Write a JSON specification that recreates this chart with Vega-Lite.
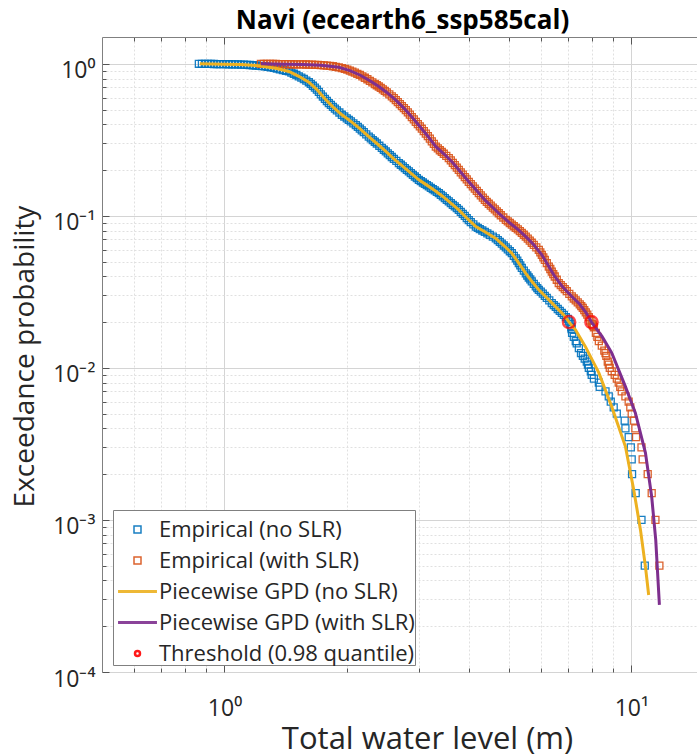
{
  "$schema": "https://vega.github.io/schema/vega-lite/v6.json",
  "width": 601,
  "height": 635,
  "autosize": {"type": "none"},
  "padding": {"left": 102, "top": 37, "right": 0, "bottom": 84},
  "background": "white",
  "title": {"text": "Navi (ecearth6_ssp585cal)", "font": "Open Sans", "fontSize": 26, "fontWeight": "bold", "color": "#000000", "anchor": "middle", "baseline": "alphabetic", "offset": 5, "dy": 23},
  "config": {"view": {"stroke": "#808080", "strokeWidth": 1}},
  "resolve": {"axis": {"x": "independent"}},
  "datasets": {
    "emp": [
      {"x":0.865,"p":1.0,"s":"Empirical (no SLR)"},{"x":0.88,"p":0.9993,"s":"Empirical (no SLR)"},{"x":0.895,"p":0.9985,"s":"Empirical (no SLR)"},{"x":0.910,"p":0.9978,"s":"Empirical (no SLR)"},{"x":0.926,"p":0.997,"s":"Empirical (no SLR)"},{"x":0.942,"p":0.9963,"s":"Empirical (no SLR)"},{"x":0.958,"p":0.9955,"s":"Empirical (no SLR)"},{"x":0.974,"p":0.9948,"s":"Empirical (no SLR)"},{"x":0.991,"p":0.994,"s":"Empirical (no SLR)"},{"x":1.008,"p":0.9933,"s":"Empirical (no SLR)"},{"x":1.025,"p":0.9925,"s":"Empirical (no SLR)"},{"x":1.043,"p":0.9918,"s":"Empirical (no SLR)"},{"x":1.061,"p":0.991,"s":"Empirical (no SLR)"},{"x":1.079,"p":0.9895,"s":"Empirical (no SLR)"},{"x":1.097,"p":0.988,"s":"Empirical (no SLR)"},{"x":1.116,"p":0.9865,"s":"Empirical (no SLR)"},{"x":1.135,"p":0.985,"s":"Empirical (no SLR)"},{"x":1.154,"p":0.9815,"s":"Empirical (no SLR)"},{"x":1.174,"p":0.978,"s":"Empirical (no SLR)"},{"x":1.194,"p":0.974,"s":"Empirical (no SLR)"},{"x":1.215,"p":0.970,"s":"Empirical (no SLR)"},{"x":1.236,"p":0.9655,"s":"Empirical (no SLR)"},{"x":1.257,"p":0.961,"s":"Empirical (no SLR)"},{"x":1.278,"p":0.9545,"s":"Empirical (no SLR)"},{"x":1.300,"p":0.948,"s":"Empirical (no SLR)"},{"x":1.322,"p":0.939,"s":"Empirical (no SLR)"},{"x":1.345,"p":0.930,"s":"Empirical (no SLR)"},{"x":1.368,"p":0.9195,"s":"Empirical (no SLR)"},{"x":1.392,"p":0.909,"s":"Empirical (no SLR)"},{"x":1.416,"p":0.8995,"s":"Empirical (no SLR)"},{"x":1.440,"p":0.890,"s":"Empirical (no SLR)"},{"x":1.460,"p":0.875,"s":"Empirical (no SLR)"},{"x":1.481,"p":0.860,"s":"Empirical (no SLR)"},{"x":1.502,"p":0.8435,"s":"Empirical (no SLR)"},{"x":1.523,"p":0.827,"s":"Empirical (no SLR)"},{"x":1.545,"p":0.8105,"s":"Empirical (no SLR)"},{"x":1.567,"p":0.794,"s":"Empirical (no SLR)"},{"x":1.589,"p":0.775,"s":"Empirical (no SLR)"},{"x":1.612,"p":0.756,"s":"Empirical (no SLR)"},{"x":1.630,"p":0.7365,"s":"Empirical (no SLR)"},{"x":1.649,"p":0.717,"s":"Empirical (no SLR)"},{"x":1.668,"p":0.697,"s":"Empirical (no SLR)"},{"x":1.687,"p":0.677,"s":"Empirical (no SLR)"},{"x":1.706,"p":0.653,"s":"Empirical (no SLR)"},{"x":1.725,"p":0.630,"s":"Empirical (no SLR)"},{"x":1.745,"p":0.609,"s":"Empirical (no SLR)"},{"x":1.765,"p":0.588,"s":"Empirical (no SLR)"},{"x":1.785,"p":0.569,"s":"Empirical (no SLR)"},{"x":1.805,"p":0.551,"s":"Empirical (no SLR)"},{"x":1.826,"p":0.536,"s":"Empirical (no SLR)"},{"x":1.847,"p":0.521,"s":"Empirical (no SLR)"},{"x":1.868,"p":0.507,"s":"Empirical (no SLR)"},{"x":1.889,"p":0.494,"s":"Empirical (no SLR)"},{"x":1.916,"p":0.478,"s":"Empirical (no SLR)"},{"x":1.943,"p":0.462,"s":"Empirical (no SLR)"},{"x":1.970,"p":0.450,"s":"Empirical (no SLR)"},{"x":1.998,"p":0.438,"s":"Empirical (no SLR)"},{"x":2.021,"p":0.428,"s":"Empirical (no SLR)"},{"x":2.045,"p":0.418,"s":"Empirical (no SLR)"},{"x":2.074,"p":0.406,"s":"Empirical (no SLR)"},{"x":2.103,"p":0.395,"s":"Empirical (no SLR)"},{"x":2.127,"p":0.385,"s":"Empirical (no SLR)"},{"x":2.151,"p":0.375,"s":"Empirical (no SLR)"},{"x":2.175,"p":0.365,"s":"Empirical (no SLR)"},{"x":2.200,"p":0.355,"s":"Empirical (no SLR)"},{"x":2.231,"p":0.343,"s":"Empirical (no SLR)"},{"x":2.263,"p":0.332,"s":"Empirical (no SLR)"},{"x":2.289,"p":0.323,"s":"Empirical (no SLR)"},{"x":2.315,"p":0.315,"s":"Empirical (no SLR)"},{"x":2.341,"p":0.307,"s":"Empirical (no SLR)"},{"x":2.368,"p":0.299,"s":"Empirical (no SLR)"},{"x":2.402,"p":0.289,"s":"Empirical (no SLR)"},{"x":2.436,"p":0.280,"s":"Empirical (no SLR)"},{"x":2.464,"p":0.272,"s":"Empirical (no SLR)"},{"x":2.492,"p":0.265,"s":"Empirical (no SLR)"},{"x":2.520,"p":0.2577,"s":"Empirical (no SLR)"},{"x":2.549,"p":0.2504,"s":"Empirical (no SLR)"},{"x":2.578,"p":0.2437,"s":"Empirical (no SLR)"},{"x":2.608,"p":0.2371,"s":"Empirical (no SLR)"},{"x":2.645,"p":0.2295,"s":"Empirical (no SLR)"},{"x":2.683,"p":0.2222,"s":"Empirical (no SLR)"},{"x":2.713,"p":0.2167,"s":"Empirical (no SLR)"},{"x":2.744,"p":0.2113,"s":"Empirical (no SLR)"},{"x":2.775,"p":0.2060,"s":"Empirical (no SLR)"},{"x":2.807,"p":0.2007,"s":"Empirical (no SLR)"},{"x":2.839,"p":0.1958,"s":"Empirical (no SLR)"},{"x":2.871,"p":0.1910,"s":"Empirical (no SLR)"},{"x":2.904,"p":0.1862,"s":"Empirical (no SLR)"},{"x":2.937,"p":0.1814,"s":"Empirical (no SLR)"},{"x":2.970,"p":0.1769,"s":"Empirical (no SLR)"},{"x":3.004,"p":0.1725,"s":"Empirical (no SLR)"},{"x":3.038,"p":0.1690,"s":"Empirical (no SLR)"},{"x":3.073,"p":0.1656,"s":"Empirical (no SLR)"},{"x":3.108,"p":0.1624,"s":"Empirical (no SLR)"},{"x":3.143,"p":0.1592,"s":"Empirical (no SLR)"},{"x":3.179,"p":0.1560,"s":"Empirical (no SLR)"},{"x":3.215,"p":0.1528,"s":"Empirical (no SLR)"},{"x":3.251,"p":0.1498,"s":"Empirical (no SLR)"},{"x":3.288,"p":0.1469,"s":"Empirical (no SLR)"},{"x":3.326,"p":0.1439,"s":"Empirical (no SLR)"},{"x":3.364,"p":0.1410,"s":"Empirical (no SLR)"},{"x":3.402,"p":0.1375,"s":"Empirical (no SLR)"},{"x":3.441,"p":0.1341,"s":"Empirical (no SLR)"},{"x":3.480,"p":0.1307,"s":"Empirical (no SLR)"},{"x":3.519,"p":0.1274,"s":"Empirical (no SLR)"},{"x":3.559,"p":0.1243,"s":"Empirical (no SLR)"},{"x":3.600,"p":0.1212,"s":"Empirical (no SLR)"},{"x":3.641,"p":0.1182,"s":"Empirical (no SLR)"},{"x":3.682,"p":0.1153,"s":"Empirical (no SLR)"},{"x":3.724,"p":0.1124,"s":"Empirical (no SLR)"},{"x":3.766,"p":0.1095,"s":"Empirical (no SLR)"},{"x":3.809,"p":0.1063,"s":"Empirical (no SLR)"},{"x":3.852,"p":0.1031,"s":"Empirical (no SLR)"},{"x":3.896,"p":0.0999,"s":"Empirical (no SLR)"},{"x":3.940,"p":0.0967,"s":"Empirical (no SLR)"},{"x":3.985,"p":0.0937,"s":"Empirical (no SLR)"},{"x":4.031,"p":0.0908,"s":"Empirical (no SLR)"},{"x":4.089,"p":0.0878,"s":"Empirical (no SLR)"},{"x":4.147,"p":0.0849,"s":"Empirical (no SLR)"},{"x":4.194,"p":0.0833,"s":"Empirical (no SLR)"},{"x":4.242,"p":0.0818,"s":"Empirical (no SLR)"},{"x":4.303,"p":0.0801,"s":"Empirical (no SLR)"},{"x":4.364,"p":0.0785,"s":"Empirical (no SLR)"},{"x":4.426,"p":0.0767,"s":"Empirical (no SLR)"},{"x":4.489,"p":0.0750,"s":"Empirical (no SLR)"},{"x":4.566,"p":0.0730,"s":"Empirical (no SLR)"},{"x":4.644,"p":0.0711,"s":"Empirical (no SLR)"},{"x":4.697,"p":0.0692,"s":"Empirical (no SLR)"},{"x":4.750,"p":0.0674,"s":"Empirical (no SLR)"},{"x":4.804,"p":0.0656,"s":"Empirical (no SLR)"},{"x":4.859,"p":0.0638,"s":"Empirical (no SLR)"},{"x":4.914,"p":0.0620,"s":"Empirical (no SLR)"},{"x":4.970,"p":0.0602,"s":"Empirical (no SLR)"},{"x":5.027,"p":0.0585,"s":"Empirical (no SLR)"},{"x":5.084,"p":0.0568,"s":"Empirical (no SLR)"},{"x":5.142,"p":0.0546,"s":"Empirical (no SLR)"},{"x":5.200,"p":0.0525,"s":"Empirical (no SLR)"},{"x":5.244,"p":0.0507,"s":"Empirical (no SLR)"},{"x":5.289,"p":0.0489,"s":"Empirical (no SLR)"},{"x":5.334,"p":0.0472,"s":"Empirical (no SLR)"},{"x":5.380,"p":0.0455,"s":"Empirical (no SLR)"},{"x":5.441,"p":0.0436,"s":"Empirical (no SLR)"},{"x":5.502,"p":0.0418,"s":"Empirical (no SLR)"},{"x":5.549,"p":0.0405,"s":"Empirical (no SLR)"},{"x":5.596,"p":0.0393,"s":"Empirical (no SLR)"},{"x":5.644,"p":0.0382,"s":"Empirical (no SLR)"},{"x":5.692,"p":0.0371,"s":"Empirical (no SLR)"},{"x":5.757,"p":0.0357,"s":"Empirical (no SLR)"},{"x":5.823,"p":0.0344,"s":"Empirical (no SLR)"},{"x":5.873,"p":0.0335,"s":"Empirical (no SLR)"},{"x":5.923,"p":0.0326,"s":"Empirical (no SLR)"},{"x":5.990,"p":0.0317,"s":"Empirical (no SLR)"},{"x":6.058,"p":0.0308,"s":"Empirical (no SLR)"},{"x":6.127,"p":0.0298,"s":"Empirical (no SLR)"},{"x":6.197,"p":0.0289,"s":"Empirical (no SLR)"},{"x":6.285,"p":0.0278,"s":"Empirical (no SLR)"},{"x":6.374,"p":0.0267,"s":"Empirical (no SLR)"},{"x":6.447,"p":0.0259,"s":"Empirical (no SLR)"},{"x":6.520,"p":0.0252,"s":"Empirical (no SLR)"},{"x":6.594,"p":0.0244,"s":"Empirical (no SLR)"},{"x":6.669,"p":0.0237,"s":"Empirical (no SLR)"},{"x":6.746,"p":0.0230,"s":"Empirical (no SLR)"},{"x":6.823,"p":0.0223,"s":"Empirical (no SLR)"},{"x":6.901,"p":0.0216,"s":"Empirical (no SLR)"},{"x":6.979,"p":0.0210,"s":"Empirical (no SLR)"},{"x":7.03,"p":0.0202,"s":"Empirical (no SLR)"},
      {"x":7.08,"p":0.0195,"s":"Empirical (no SLR)"},{"x":7.12,"p":0.0185,"s":"Empirical (no SLR)"},{"x":7.13,"p":0.018,"s":"Empirical (no SLR)"},{"x":7.15,"p":0.017,"s":"Empirical (no SLR)"},{"x":7.22,"p":0.016,"s":"Empirical (no SLR)"},{"x":7.30,"p":0.015,"s":"Empirical (no SLR)"},{"x":7.34,"p":0.0145,"s":"Empirical (no SLR)"},{"x":7.43,"p":0.0135,"s":"Empirical (no SLR)"},{"x":7.52,"p":0.0125,"s":"Empirical (no SLR)"},{"x":7.60,"p":0.012,"s":"Empirical (no SLR)"},{"x":7.68,"p":0.0115,"s":"Empirical (no SLR)"},{"x":7.77,"p":0.011,"s":"Empirical (no SLR)"},{"x":7.82,"p":0.0105,"s":"Empirical (no SLR)"},{"x":7.86,"p":0.010,"s":"Empirical (no SLR)"},{"x":7.95,"p":0.0095,"s":"Empirical (no SLR)"},{"x":7.99,"p":0.009,"s":"Empirical (no SLR)"},{"x":8.09,"p":0.0085,"s":"Empirical (no SLR)"},{"x":8.32,"p":0.008,"s":"Empirical (no SLR)"},{"x":8.36,"p":0.0075,"s":"Empirical (no SLR)"},{"x":8.64,"p":0.007,"s":"Empirical (no SLR)"},{"x":8.80,"p":0.0065,"s":"Empirical (no SLR)"},{"x":8.90,"p":0.006,"s":"Empirical (no SLR)"},{"x":9.05,"p":0.0055,"s":"Empirical (no SLR)"},{"x":9.21,"p":0.005,"s":"Empirical (no SLR)"},{"x":9.63,"p":0.0045,"s":"Empirical (no SLR)"},{"x":9.67,"p":0.004,"s":"Empirical (no SLR)"},{"x":9.85,"p":0.0035,"s":"Empirical (no SLR)"},{"x":9.97,"p":0.003,"s":"Empirical (no SLR)"},{"x":10.02,"p":0.0025,"s":"Empirical (no SLR)"},{"x":10.04,"p":0.002,"s":"Empirical (no SLR)"},{"x":10.25,"p":0.0015,"s":"Empirical (no SLR)"},{"x":10.59,"p":0.001,"s":"Empirical (no SLR)"},{"x":10.79,"p":0.0005,"s":"Empirical (no SLR)"},
      {"x":1.229,"p":1.0,"s":"Empirical (with SLR)"},{"x":1.250,"p":0.9993,"s":"Empirical (with SLR)"},{"x":1.271,"p":0.9985,"s":"Empirical (with SLR)"},{"x":1.293,"p":0.9978,"s":"Empirical (with SLR)"},{"x":1.315,"p":0.997,"s":"Empirical (with SLR)"},{"x":1.337,"p":0.9963,"s":"Empirical (with SLR)"},{"x":1.360,"p":0.9955,"s":"Empirical (with SLR)"},{"x":1.383,"p":0.9948,"s":"Empirical (with SLR)"},{"x":1.407,"p":0.994,"s":"Empirical (with SLR)"},{"x":1.431,"p":0.9933,"s":"Empirical (with SLR)"},{"x":1.456,"p":0.9925,"s":"Empirical (with SLR)"},{"x":1.481,"p":0.9918,"s":"Empirical (with SLR)"},{"x":1.506,"p":0.991,"s":"Empirical (with SLR)"},{"x":1.532,"p":0.9903,"s":"Empirical (with SLR)"},{"x":1.558,"p":0.9895,"s":"Empirical (with SLR)"},{"x":1.585,"p":0.9888,"s":"Empirical (with SLR)"},{"x":1.612,"p":0.988,"s":"Empirical (with SLR)"},{"x":1.640,"p":0.9865,"s":"Empirical (with SLR)"},{"x":1.668,"p":0.985,"s":"Empirical (with SLR)"},{"x":1.696,"p":0.982,"s":"Empirical (with SLR)"},{"x":1.725,"p":0.979,"s":"Empirical (with SLR)"},{"x":1.755,"p":0.9755,"s":"Empirical (with SLR)"},{"x":1.785,"p":0.972,"s":"Empirical (with SLR)"},{"x":1.816,"p":0.9675,"s":"Empirical (with SLR)"},{"x":1.847,"p":0.963,"s":"Empirical (with SLR)"},{"x":1.878,"p":0.9555,"s":"Empirical (with SLR)"},{"x":1.910,"p":0.948,"s":"Empirical (with SLR)"},{"x":1.943,"p":0.9375,"s":"Empirical (with SLR)"},{"x":1.976,"p":0.927,"s":"Empirical (with SLR)"},{"x":2.004,"p":0.9145,"s":"Empirical (with SLR)"},{"x":2.033,"p":0.902,"s":"Empirical (with SLR)"},{"x":2.062,"p":0.8885,"s":"Empirical (with SLR)"},{"x":2.091,"p":0.875,"s":"Empirical (with SLR)"},{"x":2.121,"p":0.8595,"s":"Empirical (with SLR)"},{"x":2.151,"p":0.844,"s":"Empirical (with SLR)"},{"x":2.182,"p":0.8265,"s":"Empirical (with SLR)"},{"x":2.213,"p":0.809,"s":"Empirical (with SLR)"},{"x":2.245,"p":0.791,"s":"Empirical (with SLR)"},{"x":2.277,"p":0.773,"s":"Empirical (with SLR)"},{"x":2.309,"p":0.7545,"s":"Empirical (with SLR)"},{"x":2.342,"p":0.736,"s":"Empirical (with SLR)"},{"x":2.368,"p":0.7225,"s":"Empirical (with SLR)"},{"x":2.395,"p":0.709,"s":"Empirical (with SLR)"},{"x":2.422,"p":0.694,"s":"Empirical (with SLR)"},{"x":2.450,"p":0.679,"s":"Empirical (with SLR)"},{"x":2.478,"p":0.6635,"s":"Empirical (with SLR)"},{"x":2.506,"p":0.648,"s":"Empirical (with SLR)"},{"x":2.542,"p":0.6295,"s":"Empirical (with SLR)"},{"x":2.578,"p":0.611,"s":"Empirical (with SLR)"},{"x":2.607,"p":0.594,"s":"Empirical (with SLR)"},{"x":2.637,"p":0.577,"s":"Empirical (with SLR)"},{"x":2.667,"p":0.560,"s":"Empirical (with SLR)"},{"x":2.698,"p":0.543,"s":"Empirical (with SLR)"},{"x":2.729,"p":0.527,"s":"Empirical (with SLR)"},{"x":2.760,"p":0.511,"s":"Empirical (with SLR)"},{"x":2.791,"p":0.495,"s":"Empirical (with SLR)"},{"x":2.823,"p":0.479,"s":"Empirical (with SLR)"},{"x":2.855,"p":0.4625,"s":"Empirical (with SLR)"},{"x":2.887,"p":0.446,"s":"Empirical (with SLR)"},{"x":2.920,"p":0.4305,"s":"Empirical (with SLR)"},{"x":2.953,"p":0.415,"s":"Empirical (with SLR)"},{"x":2.987,"p":0.401,"s":"Empirical (with SLR)"},{"x":3.021,"p":0.387,"s":"Empirical (with SLR)"},{"x":3.055,"p":0.374,"s":"Empirical (with SLR)"},{"x":3.090,"p":0.361,"s":"Empirical (with SLR)"},{"x":3.125,"p":0.3475,"s":"Empirical (with SLR)"},{"x":3.161,"p":0.334,"s":"Empirical (with SLR)"},{"x":3.197,"p":0.3215,"s":"Empirical (with SLR)"},{"x":3.233,"p":0.309,"s":"Empirical (with SLR)"},{"x":3.270,"p":0.297,"s":"Empirical (with SLR)"},{"x":3.307,"p":0.285,"s":"Empirical (with SLR)"},{"x":3.345,"p":0.2775,"s":"Empirical (with SLR)"},{"x":3.383,"p":0.270,"s":"Empirical (with SLR)"},{"x":3.421,"p":0.263,"s":"Empirical (with SLR)"},{"x":3.460,"p":0.256,"s":"Empirical (with SLR)"},{"x":3.509,"p":0.2478,"s":"Empirical (with SLR)"},{"x":3.559,"p":0.2397,"s":"Empirical (with SLR)"},{"x":3.600,"p":0.2315,"s":"Empirical (with SLR)"},{"x":3.641,"p":0.2233,"s":"Empirical (with SLR)"},{"x":3.682,"p":0.2154,"s":"Empirical (with SLR)"},{"x":3.724,"p":0.2075,"s":"Empirical (with SLR)"},{"x":3.766,"p":0.2004,"s":"Empirical (with SLR)"},{"x":3.809,"p":0.1933,"s":"Empirical (with SLR)"},{"x":3.852,"p":0.1865,"s":"Empirical (with SLR)"},{"x":3.896,"p":0.1797,"s":"Empirical (with SLR)"},{"x":3.940,"p":0.1735,"s":"Empirical (with SLR)"},{"x":3.985,"p":0.1674,"s":"Empirical (with SLR)"},{"x":4.031,"p":0.1618,"s":"Empirical (with SLR)"},{"x":4.077,"p":0.1563,"s":"Empirical (with SLR)"},{"x":4.123,"p":0.1512,"s":"Empirical (with SLR)"},{"x":4.170,"p":0.1461,"s":"Empirical (with SLR)"},{"x":4.218,"p":0.1412,"s":"Empirical (with SLR)"},{"x":4.266,"p":0.1364,"s":"Empirical (with SLR)"},{"x":4.315,"p":0.1319,"s":"Empirical (with SLR)"},{"x":4.364,"p":0.1274,"s":"Empirical (with SLR)"},{"x":4.413,"p":0.1237,"s":"Empirical (with SLR)"},{"x":4.463,"p":0.1201,"s":"Empirical (with SLR)"},{"x":4.514,"p":0.1167,"s":"Empirical (with SLR)"},{"x":4.566,"p":0.1134,"s":"Empirical (with SLR)"},{"x":4.618,"p":0.1102,"s":"Empirical (with SLR)"},{"x":4.670,"p":0.1071,"s":"Empirical (with SLR)"},{"x":4.723,"p":0.1040,"s":"Empirical (with SLR)"},{"x":4.777,"p":0.1009,"s":"Empirical (with SLR)"},{"x":4.845,"p":0.0975,"s":"Empirical (with SLR)"},{"x":4.914,"p":0.0941,"s":"Empirical (with SLR)"},{"x":4.970,"p":0.0919,"s":"Empirical (with SLR)"},{"x":5.027,"p":0.0897,"s":"Empirical (with SLR)"},{"x":5.084,"p":0.0875,"s":"Empirical (with SLR)"},{"x":5.142,"p":0.0854,"s":"Empirical (with SLR)"},{"x":5.200,"p":0.0834,"s":"Empirical (with SLR)"},{"x":5.260,"p":0.0814,"s":"Empirical (with SLR)"},{"x":5.320,"p":0.0793,"s":"Empirical (with SLR)"},{"x":5.380,"p":0.0773,"s":"Empirical (with SLR)"},{"x":5.441,"p":0.0751,"s":"Empirical (with SLR)"},{"x":5.502,"p":0.0730,"s":"Empirical (with SLR)"},{"x":5.565,"p":0.0708,"s":"Empirical (with SLR)"},{"x":5.628,"p":0.0686,"s":"Empirical (with SLR)"},{"x":5.692,"p":0.0665,"s":"Empirical (with SLR)"},{"x":5.757,"p":0.0645,"s":"Empirical (with SLR)"},{"x":5.840,"p":0.0621,"s":"Empirical (with SLR)"},{"x":5.923,"p":0.0597,"s":"Empirical (with SLR)"},{"x":5.974,"p":0.0575,"s":"Empirical (with SLR)"},{"x":6.025,"p":0.0554,"s":"Empirical (with SLR)"},{"x":6.076,"p":0.0533,"s":"Empirical (with SLR)"},{"x":6.128,"p":0.0513,"s":"Empirical (with SLR)"},{"x":6.198,"p":0.0488,"s":"Empirical (with SLR)"},{"x":6.268,"p":0.0464,"s":"Empirical (with SLR)"},{"x":6.321,"p":0.0447,"s":"Empirical (with SLR)"},{"x":6.374,"p":0.0430,"s":"Empirical (with SLR)"},{"x":6.428,"p":0.0414,"s":"Empirical (with SLR)"},{"x":6.483,"p":0.0399,"s":"Empirical (with SLR)"},{"x":6.557,"p":0.0380,"s":"Empirical (with SLR)"},{"x":6.631,"p":0.0361,"s":"Empirical (with SLR)"},{"x":6.707,"p":0.0350,"s":"Empirical (with SLR)"},{"x":6.783,"p":0.0340,"s":"Empirical (with SLR)"},{"x":6.861,"p":0.0330,"s":"Empirical (with SLR)"},{"x":6.939,"p":0.0320,"s":"Empirical (with SLR)"},{"x":7.039,"p":0.0307,"s":"Empirical (with SLR)"},{"x":7.139,"p":0.0295,"s":"Empirical (with SLR)"},{"x":7.220,"p":0.0286,"s":"Empirical (with SLR)"},{"x":7.30,"p":0.0278,"s":"Empirical (with SLR)"},{"x":7.384,"p":0.0270,"s":"Empirical (with SLR)"},{"x":7.468,"p":0.0262,"s":"Empirical (with SLR)"},{"x":7.532,"p":0.0255,"s":"Empirical (with SLR)"},{"x":7.596,"p":0.0248,"s":"Empirical (with SLR)"},{"x":7.661,"p":0.0240,"s":"Empirical (with SLR)"},{"x":7.727,"p":0.0232,"s":"Empirical (with SLR)"},{"x":7.793,"p":0.0224,"s":"Empirical (with SLR)"},{"x":7.86,"p":0.0216,"s":"Empirical (with SLR)"},{"x":7.93,"p":0.0205,"s":"Empirical (with SLR)"},
      {"x":8.00,"p":0.0195,"s":"Empirical (with SLR)"},{"x":8.05,"p":0.019,"s":"Empirical (with SLR)"},{"x":8.09,"p":0.0185,"s":"Empirical (with SLR)"},{"x":8.18,"p":0.017,"s":"Empirical (with SLR)"},{"x":8.25,"p":0.016,"s":"Empirical (with SLR)"},{"x":8.32,"p":0.015,"s":"Empirical (with SLR)"},{"x":8.46,"p":0.014,"s":"Empirical (with SLR)"},{"x":8.58,"p":0.013,"s":"Empirical (with SLR)"},{"x":8.64,"p":0.0125,"s":"Empirical (with SLR)"},{"x":8.68,"p":0.012,"s":"Empirical (with SLR)"},{"x":8.75,"p":0.011,"s":"Empirical (with SLR)"},{"x":8.80,"p":0.0105,"s":"Empirical (with SLR)"},{"x":8.85,"p":0.010,"s":"Empirical (with SLR)"},{"x":8.95,"p":0.0095,"s":"Empirical (with SLR)"},{"x":9.10,"p":0.009,"s":"Empirical (with SLR)"},{"x":9.21,"p":0.0085,"s":"Empirical (with SLR)"},{"x":9.31,"p":0.008,"s":"Empirical (with SLR)"},{"x":9.39,"p":0.0075,"s":"Empirical (with SLR)"},{"x":9.47,"p":0.007,"s":"Empirical (with SLR)"},{"x":9.67,"p":0.0065,"s":"Empirical (with SLR)"},{"x":9.85,"p":0.006,"s":"Empirical (with SLR)"},{"x":9.94,"p":0.0055,"s":"Empirical (with SLR)"},{"x":10.02,"p":0.005,"s":"Empirical (with SLR)"},{"x":10.14,"p":0.0045,"s":"Empirical (with SLR)"},{"x":10.23,"p":0.004,"s":"Empirical (with SLR)"},{"x":10.27,"p":0.0035,"s":"Empirical (with SLR)"},{"x":10.59,"p":0.003,"s":"Empirical (with SLR)"},{"x":10.66,"p":0.0025,"s":"Empirical (with SLR)"},{"x":10.97,"p":0.002,"s":"Empirical (with SLR)"},{"x":11.22,"p":0.0015,"s":"Empirical (with SLR)"},{"x":11.46,"p":0.001,"s":"Empirical (with SLR)"},{"x":11.72,"p":0.0005,"s":"Empirical (with SLR)"}
    ],
    "gpd": [
      {"x":0.87,"p":1.0,"s":"Piecewise GPD (no SLR)"},{"x":0.991,"p":0.994,"s":"Piecewise GPD (no SLR)"},{"x":1.097,"p":0.988,"s":"Piecewise GPD (no SLR)"},{"x":1.215,"p":0.970,"s":"Piecewise GPD (no SLR)"},{"x":1.345,"p":0.930,"s":"Piecewise GPD (no SLR)"},{"x":1.44,"p":0.89,"s":"Piecewise GPD (no SLR)"},{"x":1.523,"p":0.827,"s":"Piecewise GPD (no SLR)"},{"x":1.612,"p":0.756,"s":"Piecewise GPD (no SLR)"},{"x":1.687,"p":0.677,"s":"Piecewise GPD (no SLR)"},{"x":1.765,"p":0.588,"s":"Piecewise GPD (no SLR)"},{"x":1.847,"p":0.521,"s":"Piecewise GPD (no SLR)"},{"x":1.943,"p":0.462,"s":"Piecewise GPD (no SLR)"},{"x":2.045,"p":0.418,"s":"Piecewise GPD (no SLR)"},{"x":2.151,"p":0.375,"s":"Piecewise GPD (no SLR)"},{"x":2.263,"p":0.332,"s":"Piecewise GPD (no SLR)"},{"x":2.368,"p":0.299,"s":"Piecewise GPD (no SLR)"},{"x":2.492,"p":0.265,"s":"Piecewise GPD (no SLR)"},{"x":2.608,"p":0.2371,"s":"Piecewise GPD (no SLR)"},{"x":2.744,"p":0.2113,"s":"Piecewise GPD (no SLR)"},{"x":2.871,"p":0.191,"s":"Piecewise GPD (no SLR)"},{"x":3.004,"p":0.1725,"s":"Piecewise GPD (no SLR)"},{"x":3.143,"p":0.1592,"s":"Piecewise GPD (no SLR)"},{"x":3.288,"p":0.1469,"s":"Piecewise GPD (no SLR)"},{"x":3.441,"p":0.1341,"s":"Piecewise GPD (no SLR)"},{"x":3.6,"p":0.1212,"s":"Piecewise GPD (no SLR)"},{"x":3.766,"p":0.1095,"s":"Piecewise GPD (no SLR)"},{"x":3.94,"p":0.0967,"s":"Piecewise GPD (no SLR)"},{"x":4.147,"p":0.0849,"s":"Piecewise GPD (no SLR)"},{"x":4.364,"p":0.0785,"s":"Piecewise GPD (no SLR)"},{"x":4.644,"p":0.0711,"s":"Piecewise GPD (no SLR)"},{"x":4.859,"p":0.0638,"s":"Piecewise GPD (no SLR)"},{"x":5.084,"p":0.0568,"s":"Piecewise GPD (no SLR)"},{"x":5.289,"p":0.0489,"s":"Piecewise GPD (no SLR)"},{"x":5.502,"p":0.0418,"s":"Piecewise GPD (no SLR)"},{"x":5.692,"p":0.0371,"s":"Piecewise GPD (no SLR)"},{"x":5.923,"p":0.0326,"s":"Piecewise GPD (no SLR)"},{"x":6.197,"p":0.0289,"s":"Piecewise GPD (no SLR)"},{"x":6.52,"p":0.0252,"s":"Piecewise GPD (no SLR)"},{"x":6.823,"p":0.0223,"s":"Piecewise GPD (no SLR)"},{"x":7.03,"p":0.02,"s":"Piecewise GPD (no SLR)"},{"x":7.29,"p":0.0178,"s":"Piecewise GPD (no SLR)"},{"x":7.71,"p":0.0138,"s":"Piecewise GPD (no SLR)"},{"x":8.32,"p":0.00927,"s":"Piecewise GPD (no SLR)"},{"x":8.95,"p":0.00556,"s":"Piecewise GPD (no SLR)"},{"x":9.67,"p":0.00304,"s":"Piecewise GPD (no SLR)"},{"x":10.14,"p":0.00157,"s":"Piecewise GPD (no SLR)"},{"x":10.53,"p":0.00086,"s":"Piecewise GPD (no SLR)"},{"x":10.83,"p":0.000493,"s":"Piecewise GPD (no SLR)"},{"x":11.03,"p":0.000321,"s":"Piecewise GPD (no SLR)"},
      {"x":1.229,"p":1.0,"s":"Piecewise GPD (with SLR)"},{"x":1.407,"p":0.994,"s":"Piecewise GPD (with SLR)"},{"x":1.558,"p":0.9895,"s":"Piecewise GPD (with SLR)"},{"x":1.725,"p":0.979,"s":"Piecewise GPD (with SLR)"},{"x":1.910,"p":0.948,"s":"Piecewise GPD (with SLR)"},{"x":2.033,"p":0.902,"s":"Piecewise GPD (with SLR)"},{"x":2.151,"p":0.844,"s":"Piecewise GPD (with SLR)"},{"x":2.277,"p":0.773,"s":"Piecewise GPD (with SLR)"},{"x":2.395,"p":0.709,"s":"Piecewise GPD (with SLR)"},{"x":2.506,"p":0.648,"s":"Piecewise GPD (with SLR)"},{"x":2.637,"p":0.577,"s":"Piecewise GPD (with SLR)"},{"x":2.760,"p":0.511,"s":"Piecewise GPD (with SLR)"},{"x":2.887,"p":0.446,"s":"Piecewise GPD (with SLR)"},{"x":3.021,"p":0.387,"s":"Piecewise GPD (with SLR)"},{"x":3.161,"p":0.334,"s":"Piecewise GPD (with SLR)"},{"x":3.307,"p":0.285,"s":"Piecewise GPD (with SLR)"},{"x":3.460,"p":0.256,"s":"Piecewise GPD (with SLR)"},{"x":3.641,"p":0.2233,"s":"Piecewise GPD (with SLR)"},{"x":3.809,"p":0.1933,"s":"Piecewise GPD (with SLR)"},{"x":3.985,"p":0.1674,"s":"Piecewise GPD (with SLR)"},{"x":4.170,"p":0.1461,"s":"Piecewise GPD (with SLR)"},{"x":4.364,"p":0.1274,"s":"Piecewise GPD (with SLR)"},{"x":4.566,"p":0.1134,"s":"Piecewise GPD (with SLR)"},{"x":4.777,"p":0.1009,"s":"Piecewise GPD (with SLR)"},{"x":5.027,"p":0.0897,"s":"Piecewise GPD (with SLR)"},{"x":5.260,"p":0.0814,"s":"Piecewise GPD (with SLR)"},{"x":5.502,"p":0.0730,"s":"Piecewise GPD (with SLR)"},{"x":5.757,"p":0.0645,"s":"Piecewise GPD (with SLR)"},{"x":6.025,"p":0.0554,"s":"Piecewise GPD (with SLR)"},{"x":6.268,"p":0.0464,"s":"Piecewise GPD (with SLR)"},{"x":6.483,"p":0.0399,"s":"Piecewise GPD (with SLR)"},{"x":6.783,"p":0.0340,"s":"Piecewise GPD (with SLR)"},{"x":7.139,"p":0.0295,"s":"Piecewise GPD (with SLR)"},{"x":7.468,"p":0.0262,"s":"Piecewise GPD (with SLR)"},{"x":7.727,"p":0.0232,"s":"Piecewise GPD (with SLR)"},{"x":7.98,"p":0.02,"s":"Piecewise GPD (with SLR)"},{"x":8.47,"p":0.0161,"s":"Piecewise GPD (with SLR)"},{"x":8.95,"p":0.01256,"s":"Piecewise GPD (with SLR)"},{"x":9.67,"p":0.00753,"s":"Piecewise GPD (with SLR)"},{"x":10.23,"p":0.00506,"s":"Piecewise GPD (with SLR)"},{"x":10.83,"p":0.00276,"s":"Piecewise GPD (with SLR)"},{"x":11.22,"p":0.00142,"s":"Piecewise GPD (with SLR)"},{"x":11.48,"p":0.00074,"s":"Piecewise GPD (with SLR)"},{"x":11.72,"p":0.000276,"s":"Piecewise GPD (with SLR)"}
    ],
    "thr": [
      {"x":7.03,"p":0.02,"s":"Threshold (0.98 quantile)"},
      {"x":7.98,"p":0.02,"s":"Threshold (0.98 quantile)"}
    ]
  },
  "layer": [
    {
      "data": {"name": "emp"},
      "mark": {"type": "point", "filled": false, "strokeWidth": 1.3, "opacity": 0.9, "size": 1400},
      "encoding": {
        "x": {"field": "x", "type": "quantitative", "scale": {"type": "log", "domain": [0.5, 15], "nice": false},
          "axis": {"orient": "bottom", "values": [0.6,0.7,0.8,0.9,1,2,3,4,5,6,7,8,9,10],
            "labelExpr": "datum.value == 1 ? '10⁰' : (datum.value == 10 ? '10¹' : '')",
            "labelFont": "Open Sans", "labelFontSize": 23, "labelColor": "#262626", "labelBaseline": "alphabetic", "labelPadding": 50, "labelFlush": false, "labelOverlap": false, "labelBound": false,
            "title": "Total water level (m)", "titleFont": "Open Sans", "titleFontSize": 31, "titleFontWeight": "normal", "titleColor": "#262626", "titleX": 325, "titleY": 76, "titleBaseline": "alphabetic", "titleAlign": "center", "titleAnchor": null,
            "domain": false, "grid": true,
            "gridColor": {"condition": {"test": "datum.value == 1 || datum.value == 10", "value": "#d4d4d4"}, "value": "#e0e0e0"},
            "gridDash": {"condition": {"test": "datum.value == 1 || datum.value == 10", "value": []}, "value": [2, 2]},
            "ticks": true, "tickColor": "#555555", "tickWidth": 1,
            "tickSize": {"condition": {"test": "datum.value == 1 || datum.value == 10", "value": -7}, "value": -4}}},
        "y": {"field": "p", "type": "quantitative", "scale": {"type": "log", "domain": [0.0001, 1.5], "nice": false},
          "axis": {"orient": "left", "values": [0.0001,0.0002,0.0003,0.0004,0.0005,0.0006,0.0007,0.0008,0.0009,0.001,0.002,0.003,0.004,0.005,0.006,0.007,0.008,0.009,0.01,0.02,0.03,0.04,0.05,0.06,0.07,0.08,0.09,0.1,0.2,0.3,0.4,0.5,0.6,0.7,0.8,0.9,1],
            "labelExpr": "datum.value == 1 ? '10⁰' : datum.value == 0.1 ? '10⁻¹' : datum.value == 0.01 ? '10⁻²' : datum.value == 0.001 ? '10⁻³' : datum.value == 0.0001 ? '10⁻⁴' : ''",
            "labelFont": "Open Sans", "labelFontSize": 23, "labelColor": "#262626", "labelBaseline": "alphabetic", "labelOffset": 14, "labelPadding": 14, "labelFlush": false, "labelOverlap": false, "labelBound": false,
            "title": "Exceedance probability", "titleFont": "Open Sans", "titleFontSize": 28, "titleFontWeight": "normal", "titleColor": "#262626", "titleX": -69, "titleY": 319, "titleBaseline": "alphabetic", "titleAlign": "center", "titleAngle": -90, "titleAnchor": null,
            "domain": false, "grid": true,
            "gridColor": {"condition": {"test": "abs(log(datum.value)/LN10 - round(log(datum.value)/LN10)) < 0.001", "value": "#d4d4d4"}, "value": "#e0e0e0"},
            "gridDash": {"condition": {"test": "abs(log(datum.value)/LN10 - round(log(datum.value)/LN10)) < 0.001", "value": []}, "value": [2, 2]},
            "ticks": true, "tickColor": "#555555", "tickWidth": 1,
            "tickSize": {"condition": {"test": "abs(log(datum.value)/LN10 - round(log(datum.value)/LN10)) < 0.001", "value": -7}, "value": -4}}},
        "color": {"field": "s", "type": "nominal",
          "scale": {"domain": ["Empirical (no SLR)", "Empirical (with SLR)", "Piecewise GPD (no SLR)", "Piecewise GPD (with SLR)", "Threshold (0.98 quantile)"], "range": ["#0072BD", "#D95319", "#EDB120", "#7E2F8E", "#FF0000"]},
          "legend": {"orient": "none", "legendX": 11, "legendY": 473, "title": null, "fillColor": "#ffffff", "strokeColor": "#808080", "padding": 0, "labelFont": "Open Sans", "labelFontSize": 22, "labelColor": "#262626", "labelOffset": 2, "rowPadding": -8.4, "labelLimit": 450, "symbolSize": 1400, "symbolStrokeWidth": 1.5, "symbolOffset": 5,
            "labelExpr": "datum.label + '\u00a0\u00a0\u00a0\u00a0\u00a0'"}},
        "shape": {"field": "s", "type": "nominal",
          "scale": {"domain": ["Empirical (no SLR)", "Empirical (with SLR)", "Piecewise GPD (no SLR)", "Piecewise GPD (with SLR)", "Threshold (0.98 quantile)"],
            "range": ["M-0.187,-0.187H0.187V0.187H-0.187Z", "M-0.187,-0.187H0.187V0.187H-0.187Z", "M-1,-0.04H1V0.04H-1Z", "M-1,-0.04H1V0.04H-1Z", "M0.16,0A0.16,0.16,0,1,1,-0.16,0A0.16,0.16,0,1,1,0.16,0ZM0.107,0A0.107,0.107,0,1,1,-0.107,0A0.107,0.107,0,1,1,0.107,0Z"]}}
      }
    },
    {
      "data": {"name": "gpd"},
      "mark": {"type": "line", "strokeWidth": 3},
      "encoding": {
        "x": {"field": "x", "type": "quantitative", "axis": null},
        "y": {"field": "p", "type": "quantitative"},
        "color": {"field": "s", "type": "nominal"}
      }
    },
    {
      "data": {"name": "thr"},
      "mark": {"type": "point", "shape": "circle", "filled": false, "strokeWidth": 2.5, "size": 150},
      "encoding": {
        "x": {"field": "x", "type": "quantitative",
          "axis": {"orient": "top", "values": [0.6,0.7,0.8,0.9,1,2,3,4,5,6,7,8,9,10], "labels": false, "title": null, "domain": false, "grid": false,
            "ticks": true, "tickColor": "#555555", "tickWidth": 1,
            "tickSize": {"condition": {"test": "datum.value == 1 || datum.value == 10", "value": -7}, "value": -4}}},
        "y": {"field": "p", "type": "quantitative"},
        "color": {"field": "s", "type": "nominal"}
      }
    }
  ]
}
